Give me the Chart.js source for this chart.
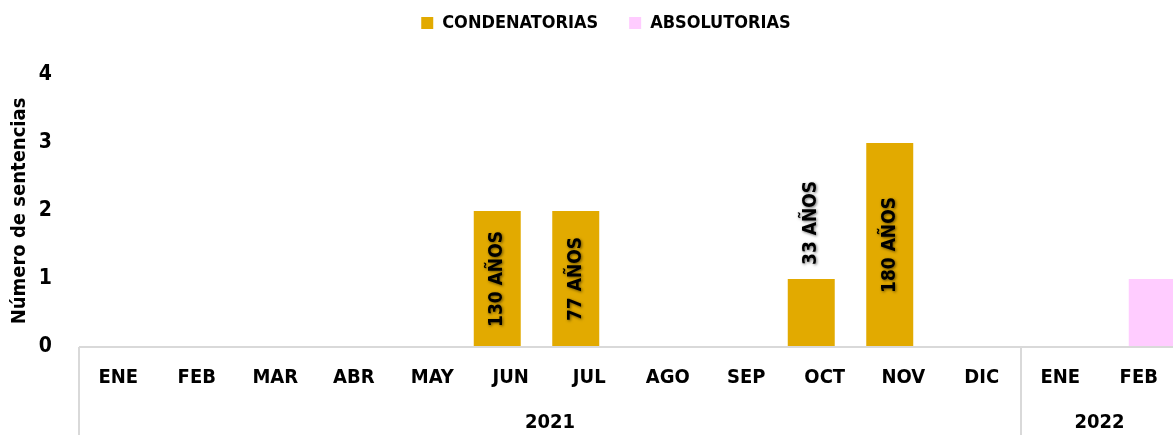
<!DOCTYPE html>
<html>
<head>
<meta charset="utf-8">
<script src="https://cdn.jsdelivr.net/npm/chart.js@4"></script>
<style>
  html, body { margin: 0; padding: 0; overflow: hidden; background: #fff; }
  #wrap { width: 1178px; height: 435px; position: relative; }
</style>
</head>
<body>
<div id="wrap"><canvas id="chart"></canvas></div>
<script>
const months = ['ENE', 'FEB', 'MAR', 'ABR', 'MAY', 'JUN', 'JUL', 'AGO', 'SEP', 'OCT', 'NOV', 'DIC', 'ENE', 'FEB']
const years = [
  { label: '2021', from: 0, to: 11 },
  { label: '2022', from: 12, to: 13 }
]
const condenatorias = [0, 0, 0, 0, 0, 2, 2, 0, 0, 1, 3, 0, 0, 0]
const absolutorias = [0, 0, 0, 0, 0, 0, 0, 0, 0, 0, 0, 0, 0, 1]
const penas = ['', '', '', '', '', '130 AÑOS', '77 AÑOS', '', '', '33 AÑOS', '180 AÑOS', '', '', '']

const FONT = "'DejaVu Sans Condensed', 'Liberation Sans Narrow', sans-serif"
const LINE = '#d9d9d9'

// legend: fixed height (gap above the plot), moved up and a bit right
const legendNudge = {
  id: 'legendNudge',
  beforeLayout(chart) {
    const legend = chart.legend
    if (!legend || legend._nudged) return
    legend._nudged = true
    const fit = legend.fit
    legend.fit = function () {
      fit.call(this)
      this.height = 75
    }
  },
  afterLayout(chart) {
    const legend = chart.legend
    legend.left += 17
    legend.right += 17
    legend.top -= 17
    legend.bottom -= 17
  }
}

// axis line, group separators and the year row
const yearAxis = {
  id: 'yearAxis',
  afterDraw(chart) {
    const { ctx, chartArea, scales: { x } } = chart
    const half = (x.getPixelForTick(1) - x.getPixelForTick(0)) / 2
    ctx.save()
    ctx.strokeStyle = LINE
    ctx.lineWidth = 2
    ctx.beginPath()
    ctx.moveTo(chartArea.left, chartArea.bottom)
    ctx.lineTo(chartArea.right, chartArea.bottom)
    ctx.stroke()
    ctx.fillStyle = '#000'
    ctx.font = 'bold 20px ' + FONT
    ctx.textAlign = 'center'
    ctx.textBaseline = 'middle'
    years.forEach(y => {
      const left = x.getPixelForTick(y.from) - half
      const right = x.getPixelForTick(y.to) + half
      ctx.beginPath()
      ctx.moveTo(left, chartArea.bottom)
      ctx.lineTo(left, chart.height)
      ctx.stroke()
      ctx.fillText(y.label, (left + right) / 2, 423)
    })
    ctx.restore()
  }
}

// vertical labels inside (or above) the bars
const barLabels = {
  id: 'barLabels',
  afterDatasetsDraw(chart) {
    const { ctx } = chart
    const meta = chart.getDatasetMeta(0)
    ctx.save()
    ctx.font = 'bold 19px ' + FONT
    ctx.fillStyle = '#000'
    ctx.textAlign = 'center'
    ctx.textBaseline = 'middle'
    ctx.shadowColor = 'rgba(0,0,0,0.55)'
    ctx.shadowBlur = 3
    ctx.shadowOffsetX = 1
    ctx.shadowOffsetY = 1
    meta.data.forEach((bar, i) => {
      const text = penas[i]
      if (!text) return
      const w = ctx.measureText(text).width
      const h = bar.base - bar.y
      let cy = (bar.y + bar.base) / 2
      if (w > h - 10) cy = bar.y - 14 - w / 2
      ctx.save()
      ctx.translate(bar.x, cy)
      ctx.rotate(-Math.PI / 2)
      ctx.fillText(text, 0, 0)
      ctx.restore()
    })
    ctx.restore()
  }
}

new Chart(document.getElementById('chart'), {
  type: 'bar',
  data: {
    labels: months,
    datasets: [
      {
        label: 'CONDENATORIAS',
        data: condenatorias,
        backgroundColor: '#E2AA00',
        categoryPercentage: 0.688,
        barPercentage: 1.74
      },
      {
        label: 'ABSOLUTORIAS',
        data: absolutorias,
        backgroundColor: '#FFCCFF',
        categoryPercentage: 0.688,
        barPercentage: 1.74
      }
    ]
  },
  options: {
    responsive: true,
    maintainAspectRatio: false,
    animation: false,
    layout: { padding: 0 },
    plugins: {
      legend: {
        position: 'top',
        labels: {
          boxWidth: 12,
          boxHeight: 12,
          padding: 31,
          color: '#000',
          font: { family: FONT, size: 18, weight: 'bold' }
        }
      },
      tooltip: { enabled: false }
    },
    scales: {
      x: {
        grid: { display: false, drawTicks: false },
        border: { display: false },
        ticks: {
          color: '#000',
          autoSkip: false,
          maxRotation: 0,
          padding: 19,
          font: { family: FONT, size: 20, weight: 'bold' }
        },
        afterFit(scale) { scale.height = 88 }
      },
      y: {
        min: 0,
        max: 4,
        grid: { display: false, drawTicks: false },
        border: { display: false },
        ticks: {
          stepSize: 1,
          color: '#000',
          padding: 27,
          font: { family: FONT, size: 21, weight: 'bold' }
        },
        title: {
          display: true,
          text: 'Número de sentencias',
          color: '#000',
          padding: { top: 8, bottom: 0 },
          font: { family: FONT, size: 20, weight: 'bold' }
        },
        afterFit(scale) { scale.width = 79 }
      }
    }
  },
  plugins: [legendNudge, yearAxis, barLabels]
})
</script>
</body>
</html>
